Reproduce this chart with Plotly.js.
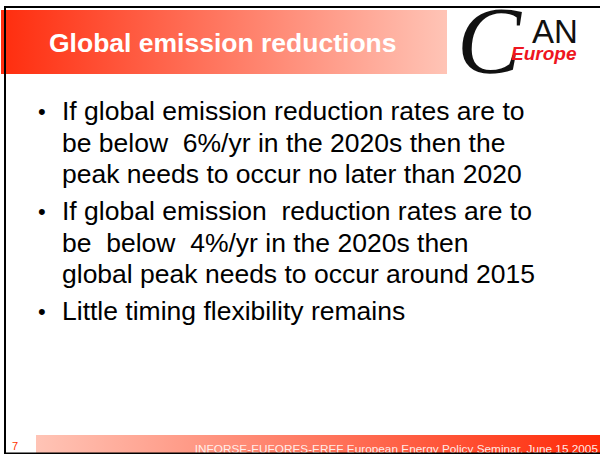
<!DOCTYPE html>
<html>
<head>
<meta charset="utf-8">
<script src="https://cdn.plot.ly/plotly-3.0.1.min.js"></script>
<style>
  html, body { margin: 0; padding: 0; background: #ffffff; overflow: hidden; }
  #slide { width: 600px; height: 454px; overflow: hidden; }
</style>
</head>
<body>
<div id="slide"></div>
<script>
// slide content
const slideTitle = "Global emission reductions";
const bulletPoints = [
    ["If global emission reduction rates are to",
     "be below\u00a0 6%/yr in the 2020s then the",
     "peak needs to occur no later than 2020"],
    ["If global emission\u00a0 reduction rates are to",
     "be\u00a0 below\u00a0 4%/yr in the 2020s then",
     "global peak needs to occur around 2015"],
    ["Little timing flexibility remains"]
];
const footerText = "INFORSE-EUFORES-EREF European Energy Policy Seminar, June 15 2005";
const slideNumber = "7";
const logoParts = ["C", "AN", "Europe"];

const SANS = "Liberation Sans, Arial, sans-serif";
const RED = "#ff2d0e";
const PINK = "#ffc4b6";

function gradientBox(x0, x1, y0, y1, scale) {
    return {
        x: [x0, x1, x1, x0, x0],
        y: [y0, y0, y1, y1, y0],
        mode: 'lines',
        fill: 'toself',
        fillgradient: { type: 'horizontal', colorscale: scale },
        line: { width: 0 },
        hoverinfo: 'skip'
    };
}

const traces = [
    gradientBox(1, 447, 10, 74, [[0, RED], [1, PINK]]),
    gradientBox(36, 600, 435, 454, [[0, PINK], [1, "#ff2a08"]]),
    {
        x: [598],
        y: [450.5],
        mode: 'text',
        text: [footerText],
        textposition: 'middle left',
        textfont: { family: SANS, size: 11.8, color: "rgba(255,246,243,0.95)" },
        hoverinfo: 'skip'
    }
];

const annotations = [];

// header title
annotations.push({
    x: 49, y: 43, xref: 'x', yref: 'y', xanchor: 'left', yanchor: 'middle',
    text: slideTitle, showarrow: false, borderpad: 0, borderwidth: 0,
    font: { family: SANS, size: 26.5, color: "#ffffff", weight: 'bold' }
});

// bullets, one annotation per text line
const LINE_STEP = 31.5;
const BULLET_GAP = 5.5;
let baseline = 120;
bulletPoints.forEach(lines => {
    annotations.push({
        x: 41.5, y: baseline - 9, xref: 'x', yref: 'y', xanchor: 'center', yanchor: 'middle',
        text: "\u2022", showarrow: false, borderpad: 0, borderwidth: 0,
        font: { family: SANS, size: 22, color: "#000000" }
    });
    lines.forEach((line, i) => {
        annotations.push({
            x: 62, y: baseline + i * LINE_STEP - 9, xref: 'x', yref: 'y',
            xanchor: 'left', yanchor: 'middle',
            text: line, showarrow: false, borderpad: 0, borderwidth: 0,
            font: { family: SANS, size: 26.5, color: "#000000" }
        });
    });
    baseline += lines.length * LINE_STEP + BULLET_GAP;
});

// logo approximated with text
annotations.push({
    x: 489, y: 40, xref: 'x', yref: 'y', xanchor: 'center', yanchor: 'middle',
    text: logoParts[0], showarrow: false, borderpad: 0, borderwidth: 0,
    font: { family: "Liberation Serif, serif", size: 96, color: "#111111", style: 'italic' }
});
annotations.push({
    x: 578, y: 31, xref: 'x', yref: 'y', xanchor: 'right', yanchor: 'middle',
    text: logoParts[1], showarrow: false, borderpad: 0, borderwidth: 0,
    font: { family: SANS, size: 33, color: "#111111" }
});
annotations.push({
    x: 577, y: 53, xref: 'x', yref: 'y', xanchor: 'right', yanchor: 'middle',
    text: logoParts[2], showarrow: false, borderpad: 0, borderwidth: 0,
    font: { family: SANS, size: 19, color: "#ee1520", weight: 'bold', style: 'italic' }
});

// slide number
annotations.push({
    x: 12, y: 446, xref: 'x', yref: 'y', xanchor: 'left', yanchor: 'middle',
    text: slideNumber, showarrow: false, borderpad: 0, borderwidth: 0,
    font: { family: SANS, size: 11, color: "#ff3300" }
});

const frame = { type: 'line', xref: 'x', yref: 'y', layer: 'above', line: { color: "#000000", width: 2 } };
const shapes = [
    Object.assign({}, frame, { x0: 4, x1: 600, y0: 7, y1: 7 }),
    Object.assign({}, frame, { x0: 5, x1: 5, y0: 6, y1: 454 }),
    Object.assign({}, frame, { x0: 4, x1: 600, y0: 453.5, y1: 453.5 })
];

const layout = {
    width: 600,
    height: 454,
    margin: { t: 0, r: 0, b: 0, l: 0 },
    paper_bgcolor: "#ffffff",
    plot_bgcolor: "#ffffff",
    showlegend: false,
    xaxis: { range: [0, 600], visible: false, fixedrange: true },
    yaxis: { range: [454, 0], visible: false, fixedrange: true },
    annotations: annotations,
    shapes: shapes
};

Plotly.newPlot('slide', traces, layout, { staticPlot: true, displayModeBar: false });
</script>
</body>
</html>
